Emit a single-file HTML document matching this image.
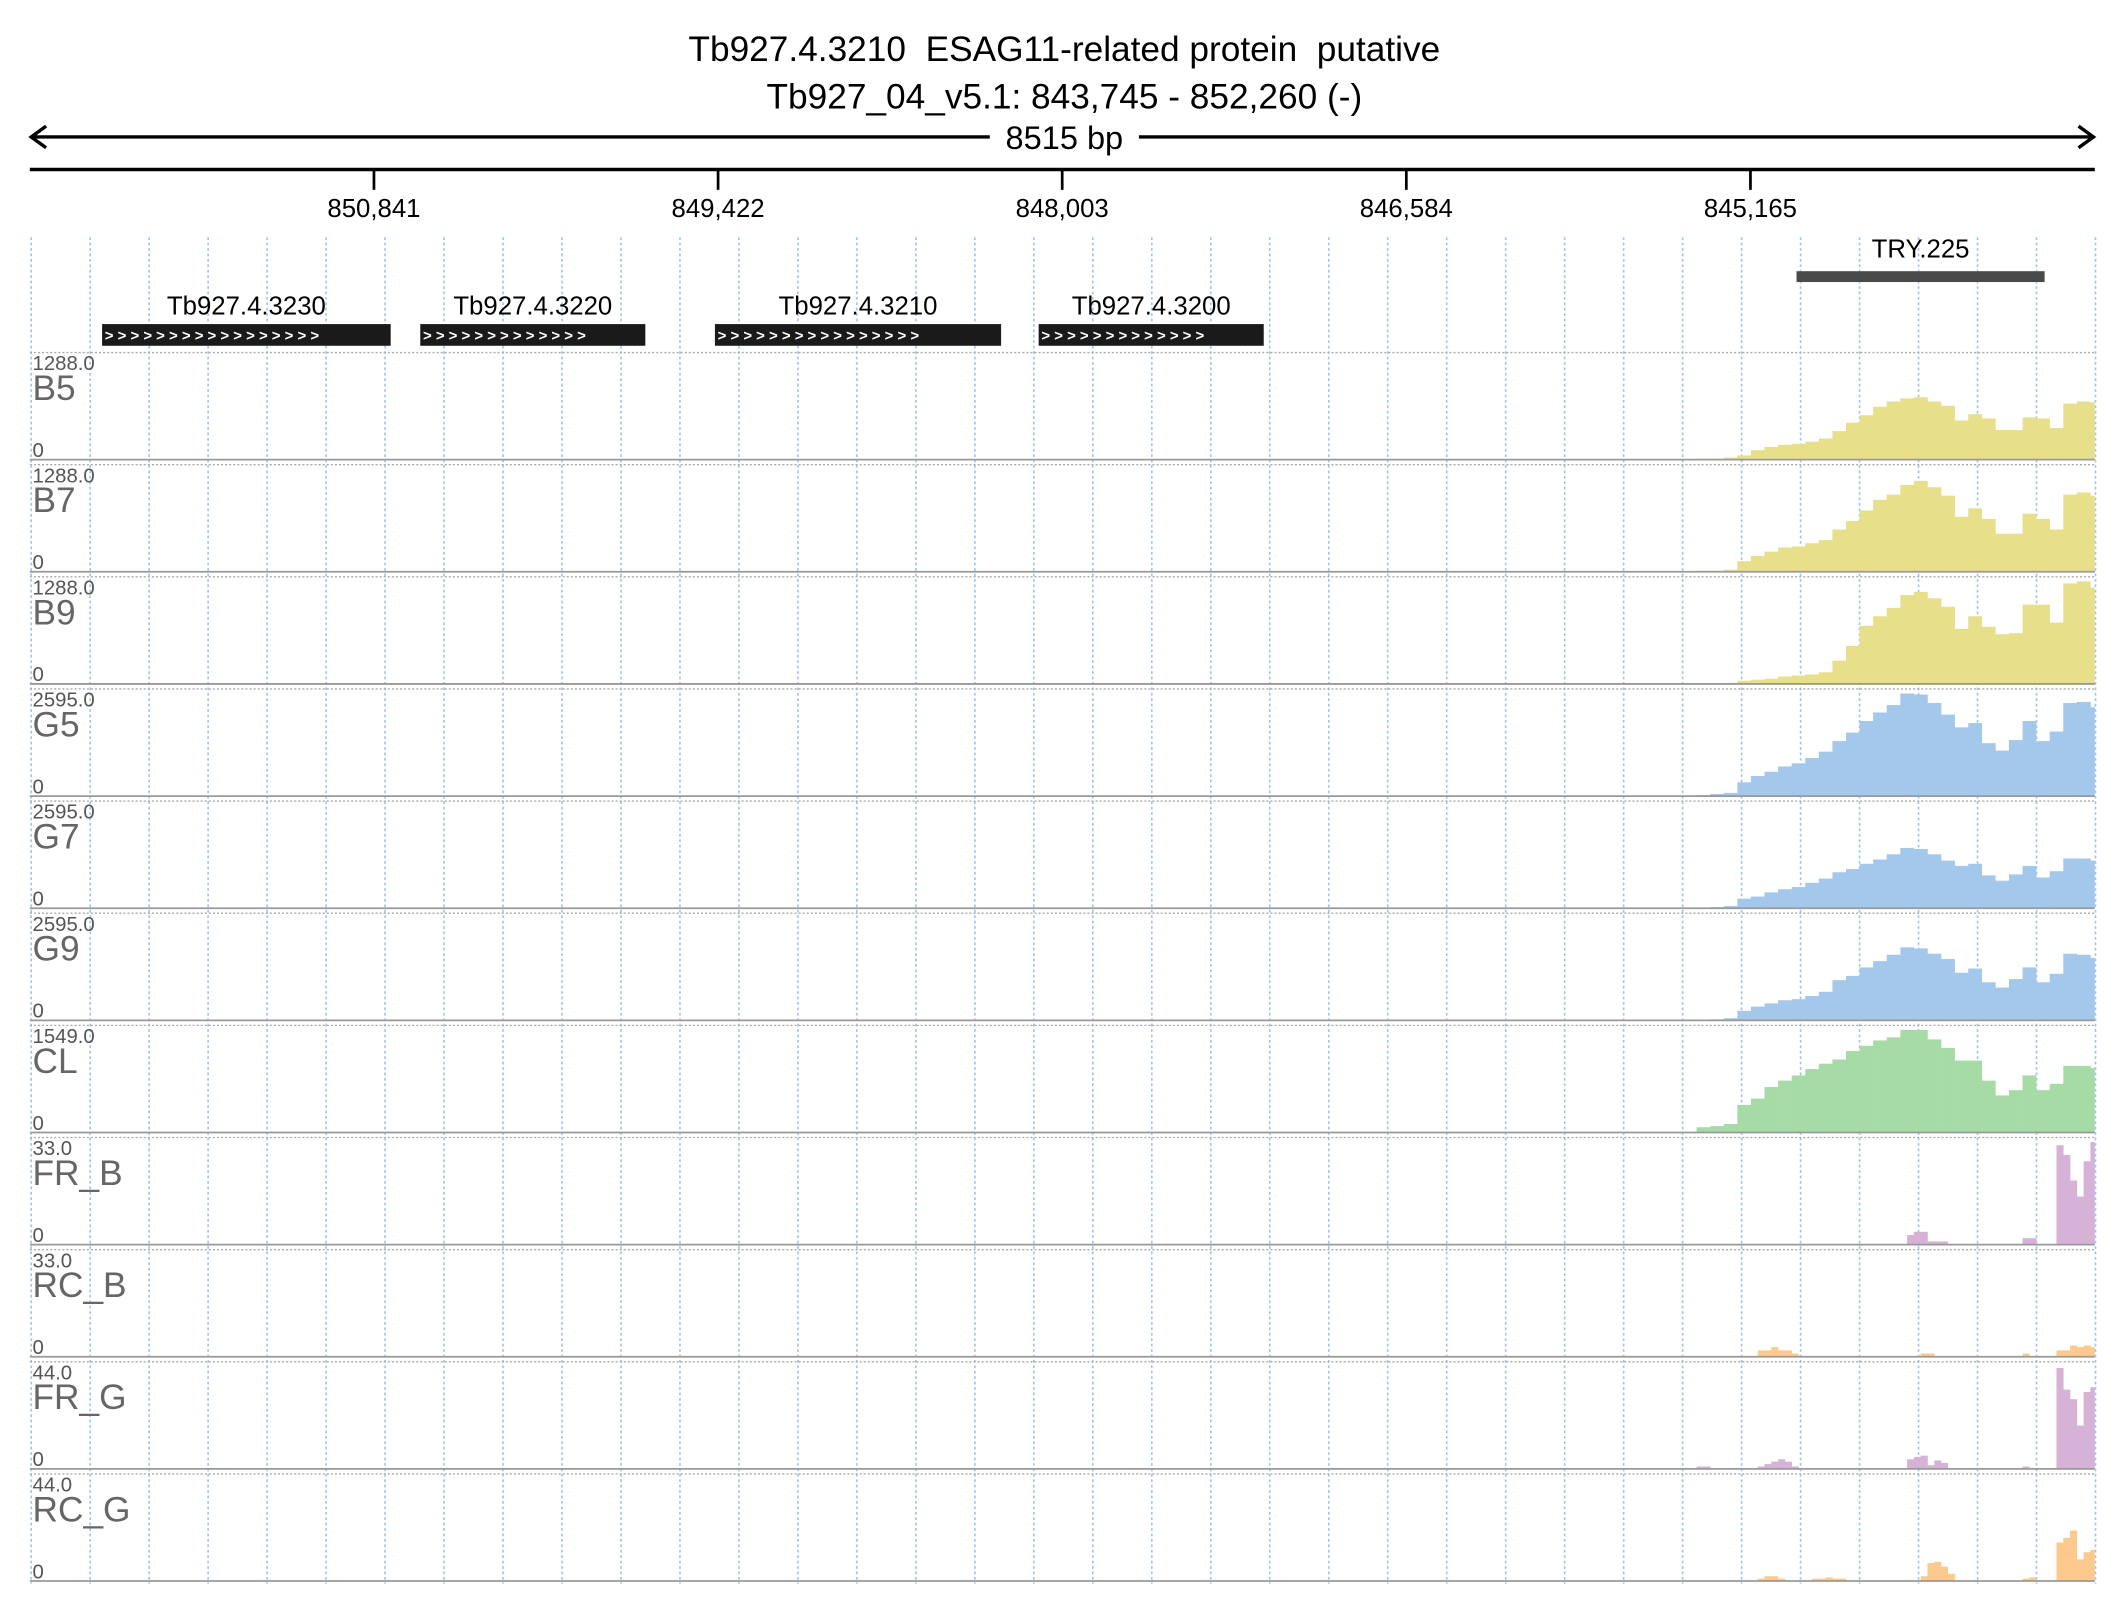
<!DOCTYPE html>
<html><head><meta charset="utf-8"><style>
html,body{margin:0;padding:0;background:#fff;}
svg{display:block;}
text{font-family:"Liberation Sans",sans-serif;}
</style></head><body>
<svg id="chart" width="2126" height="1619" viewBox="0 0 1568 1194" preserveAspectRatio="none" xmlns="http://www.w3.org/2000/svg">
<defs><clipPath id="plotclip"><rect x="22" y="0" width="1523" height="1194"/></clipPath></defs>
<g>
<text x="785" y="45" text-anchor="middle" font-size="26" fill="#000">Tb927.4.3210&#160; ESAG11-related protein&#160; putative</text>
<text x="785" y="80" text-anchor="middle" font-size="26" fill="#000">Tb927_04_v5.1: 843,745 - 852,260 (-)</text>
</g>
<g stroke="#000" stroke-width="2.5" fill="none">
<line x1="23" y1="101" x2="730" y2="101"/><line x1="840" y1="101" x2="1544" y2="101"/>
<polyline points="34,93 23,101 34,109"/><polyline points="1533,93 1544,101 1533,109"/>
</g>
<text x="785" y="110" text-anchor="middle" font-size="24">8515 bp</text>
<line x1="22" y1="125" x2="1545" y2="125" stroke="#000" stroke-width="2.5"/>
<g id="ticks"></g>
<g id="grid"></g>
<g id="genes"></g>
<g id="tracks"></g>
</svg>
<script>
const tickLabels = ["850,841","849,422","848,003","846,584","845,165"];
const tickBp = [850841,849422,848003,846584,845165];
const regionStart = 843745, regionEnd = 852260;
const geneNames = ["Tb927.4.3230","Tb927.4.3220","Tb927.4.3210","Tb927.4.3200"];
const geneStartBp = [851962,850650,849435,848100];
const geneEndBp = [850772,849722,848255,847172];
const featName = "TRY.225";
const featStartBp = [844975];
const featEndBp = [843952];
const trackNames = ["B5","B7","B9","G5","G7","G9","CL","FR_B","RC_B","FR_G","RC_G"];
const trackMax = [1288,1288,1288,2595,2595,2595,1549,33,33,44,44];
const binStartBp = 845387;
const coarseBinBp = 56;
const fineBinBp = 28;
const B5 = [13,13,26,52,116,155,180,193,219,258,348,451,541,644,708,747,760,708,657,477,554,502,361,361,515,502,386,683,708,696];
const B7 = [13,13,26,129,193,245,296,309,348,386,515,618,747,876,940,1056,1108,1030,927,670,773,644,464,464,708,644,515,940,966,927];
const B9 = [0,6,13,39,52,64,90,103,116,142,283,464,708,824,927,1082,1121,1043,940,670,824,696,605,618,966,966,747,1224,1249,1172];
const G5 = [26,52,78,337,493,597,727,804,934,1090,1349,1557,1842,2050,2232,2517,2491,2284,1998,1687,1791,1298,1116,1375,1842,1349,1583,2284,2310,2180];
const G7 = [8,26,52,234,285,389,467,519,623,727,882,960,1090,1194,1323,1479,1453,1323,1168,1038,1090,804,675,830,1038,753,908,1220,1220,1168];
const G9 = [0,26,52,234,337,415,493,519,597,701,986,1090,1298,1453,1609,1791,1765,1635,1505,1168,1272,934,804,1012,1298,934,1142,1635,1609,1531];
const CL = [77,93,124,403,496,666,759,836,929,1007,1069,1193,1270,1348,1394,1503,1503,1363,1239,1053,1053,759,542,620,836,620,713,976,976,945];
const FR_B = [0,0,0,0,0,0,0,0,0,0,0,0,0,0,0,0,0,0,0,0,0,0,0,0,0,0,0,0,0,0,0,3,4,4,1,1,1,0,0,0,0,0,0,0,0,0,0,0,2,2,0,0,0,31,28,20,15,26,32];
const RC_B = [0,0,0,0,0,0,0,0,0,2,2,3,2,2,1,0,0,0,0,0,0,0,0,0,0,0,0,0,0,0,0,0,0,1,1,0,0,0,0,0,0,0,0,0,0,0,0,0,1,0,0,0,0,2,2,3.5,3,3.5,3];
const FR_G = [1,1,0,0,0,0,0,0,0,1,2,3,4,3,1,0,0,0,0,0,0,0,0,0,0,0,0,0,0,0,0,4,5,5.5,1.5,3.5,2.5,0,0,0,0,0,0,0,0,0,0,0,1,0,0,0,0,42,33,29,18,32,34];
const RC_G = [0,0,0,0,0,0,0,0,0,1,2,2,1,0,0,0,0,1,1,1.5,1,1,0,0,0,0,0,0,0,0,0,0,0,2,7.5,8,6,3,0,0,0,0,0,0,0,0,0,0,1,1.5,0,0,0,16,18,21,9,12,13];

const NS="http://www.w3.org/2000/svg";
const X0=22, X1=1545;
function xScale(bp){return X0+(regionEnd-bp)*(X1-X0)/(regionEnd-regionStart);}
function mk(tag,attrs,parent){const e=document.createElementNS(NS,tag);for(const k in attrs)e.setAttribute(k,attrs[k]);parent.appendChild(e);return e;}

const ticksG=document.getElementById('ticks');
tickBp.forEach((bp,i)=>{
  const x=xScale(bp);
  const l=mk('line',{x1:x,y1:125,x2:x,y2:140,stroke:'#000','stroke-width':2},ticksG);
  
  
  const t=mk('text',{x:x,y:160,'text-anchor':'middle','font-size':19},ticksG);
  t.textContent=tickLabels[i];
  
  
});

const gridG=document.getElementById('grid');
for(let k=0;k<36;k++){
  const x=23+43.5*k;
  const l=mk('line',{x1:x,y1:175,x2:x,y2:1168,stroke:'#9cc6ea','stroke-width':1.2,'stroke-dasharray':'2,2'},gridG);
  
  
}

const genesG=document.getElementById('genes');
geneNames.forEach((n,i)=>{
  const xa=xScale(geneStartBp[i]), xb=xScale(geneEndBp[i]);
  const g=mk('g',{},genesG);
  
  
  mk('rect',{x:xa,y:239,width:xb-xa,height:16,fill:'#1a1a1a'},g);
  const cnt=Math.floor((xb-xa)/12.5);
  const c=mk('text',{x:xa+2,y:251,'font-size':11,fill:'#fff','font-weight':'bold'},g);
  c.textContent='>'.repeat(cnt).split('').join(' ');
  const t=mk('text',{x:(xa+xb)/2,y:232,'text-anchor':'middle','font-size':19},g);
  t.textContent=n;
});
{
  const xa=xScale(featStartBp[0]), xb=xScale(featEndBp[0]);
  const g=mk('g',{},genesG);
  
  
  mk('rect',{x:xa,y:200,width:xb-xa,height:8,fill:'#4a4a4a'},g);
  const t=mk('text',{x:(xa+xb)/2,y:190,'text-anchor':'middle','font-size':19},g);
  t.textContent=featName;
}

const trackData=[B5,B7,B9,G5,G7,G9,CL,FR_B,RC_B,FR_G,RC_G];
const colors=['#e8df8a','#e8df8a','#e8df8a','#a3c8eb','#a3c8eb','#a3c8eb','#a6dba6','#d6b2d6','#fdc98c','#d6b2d6','#fdc98c'];
const tracksG=document.getElementById('tracks');
const T0=260, TP=82.7, H=78;
trackNames.forEach((name,ti)=>{
  const top=T0+ti*TP, base=top+79;
  const g=mk('g',{},tracksG);
  
  
  mk('line',{x1:22,y1:top,x2:1545,y2:top,stroke:'#aaa','stroke-width':1,'stroke-dasharray':'1.5,1.5'},g);
  const vals=trackData[ti];
  const bw=ti<7?coarseBinBp:fineBinBp;
  const bg=mk('g',{'clip-path':'url(#plotclip)'},g);
  vals.forEach((v,i)=>{
    if(v<=0)return;
    const xa=xScale(binStartBp-i*bw), xb=xScale(binStartBp-(i+1)*bw);
    const h=v/trackMax[ti]*H;
    const r=mk('rect',{x:xa,y:base-h,width:xb-xa+0.2,height:h,fill:colors[ti]},bg);
    
    
  });
  mk('line',{x1:22,y1:base,x2:1545,y2:base,stroke:'#999','stroke-width':1.3},g);
  const mx=mk('text',{x:24,y:top+13,'font-size':15,fill:'#555'},g);
  mx.textContent=trackMax[ti].toFixed(1);
  
  
  const nm=mk('text',{x:24,y:top+35,'font-size':26,fill:'#666'},g);
  nm.textContent=name;
  
  
  const z=mk('text',{x:24,y:base-2,'font-size':15,fill:'#555'},g);
  z.textContent='0';
  
  
});
</script>
</body></html>
